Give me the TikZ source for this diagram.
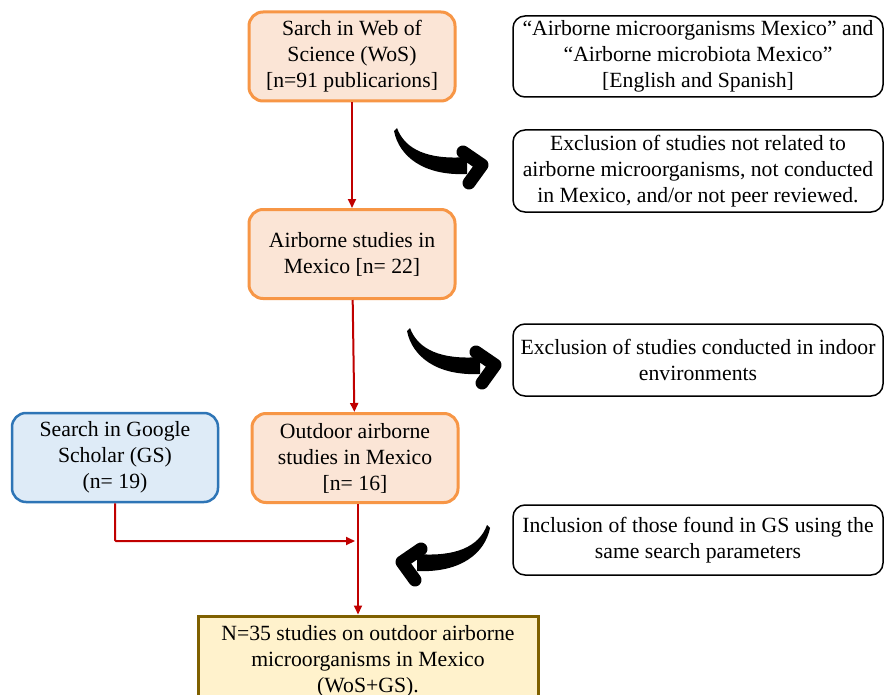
\documentclass[tikz,border=0pt]{standalone}
\usepackage{fontspec}
\setmainfont{Liberation Serif}
\usetikzlibrary{arrows.meta}
\definecolor{orfill}{RGB}{251,229,214}
\definecolor{ordraw}{RGB}{247,150,70}
\definecolor{blfill}{RGB}{222,235,247}
\definecolor{bldraw}{RGB}{46,117,182}
\definecolor{yefill}{RGB}{255,242,204}
\definecolor{yedraw}{RGB}{127,96,0}
\definecolor{redline}{RGB}{192,0,0}
\tikzset{
  every node/.style={font=\fontsize{21.7}{26}\selectfont, align=center, inner sep=0pt},
  orbox/.style={draw=ordraw, fill=orfill, line width=3pt, rounded corners=14pt, minimum width=206pt, minimum height=89pt},
  blbox/.style={draw=bldraw, fill=blfill, line width=2.5pt, rounded corners=14pt, minimum width=206pt, minimum height=89pt},
  yebox/.style={draw=yedraw, fill=yefill, line width=3pt, minimum width=340pt, minimum height=90pt},
  wbox/.style={draw=black, fill=white, line width=1.5pt, rounded corners=12pt, minimum width=370pt},
  redarrow/.style={draw=redline, line width=2pt, -{Triangle[length=9pt,width=8pt]}},
  curlyarrow/.pic={
    \fill (0,0) .. controls (8,22) and (32,32) .. (70,29) -- (70,46) .. controls (26,48) and (2,28) .. (-3,3) -- cycle;
    \draw[line width=13pt, line cap=round, line join=round] (66,24) -- (85,37) -- (72,55);
  }
}
\begin{document}
\begin{tikzpicture}[x=1pt,y=-1pt]
\useasboundingbox (0,0) rectangle (885,695);
\clip (0,0) rectangle (885,695);
\fill[white] (0,0) rectangle (885,695);

\node[orbox] (wos) at (352,56.5) {Sarch in Web of\\Science (WoS)\\{[n=91 publicarions]}};
\node[orbox] (air) at (352,254) {Airborne studies in\\Mexico [n= 22]};
\node[orbox] (out) at (355,458) {Outdoor airborne\\studies in Mexico\\{[n= 16]}};
\node[blbox] (gs) at (115,457.5) {Search in Google\\Scholar (GS)\\(n= 19)};
\node[yebox] (fin) at (368,661) {N=35 studies on outdoor airborne\\microorganisms in Mexico\\(WoS+GS).};

\node[wbox, minimum height=81pt] (r1) at (698,56.5) {“Airborne microorganisms Mexico” and\\“Airborne microbiota Mexico”\\{[English and Spanish]}};
\node[wbox, minimum height=82pt] (r2) at (698,171) {Exclusion of studies not related to\\airborne microorganisms, not conducted\\in Mexico, and/or not peer reviewed.};
\node[wbox, minimum height=72pt] (r3) at (698,360) {Exclusion of studies conducted in indoor\\environments};
\node[wbox, minimum height=70pt] (r4) at (698,540) {Inclusion of those found in GS using the\\same search parameters};

\coordinate (join) at (358,541);
\coordinate (gscorner) at (115,541);

\draw[redarrow] (wos) -- (air);
\draw[redarrow] (air) -- (out);
\draw[redarrow] (out.south -| join) -- (fin.north -| join);
\draw[redarrow, rounded corners=1pt] (gs.south) -- (gscorner) -- ([xshift=-3pt]join);

\pic at (397,128) {curlyarrow};
\pic at (410,328) {curlyarrow};
\pic[xscale=-1] at (487,525) {curlyarrow};
\end{tikzpicture}
\end{document}
